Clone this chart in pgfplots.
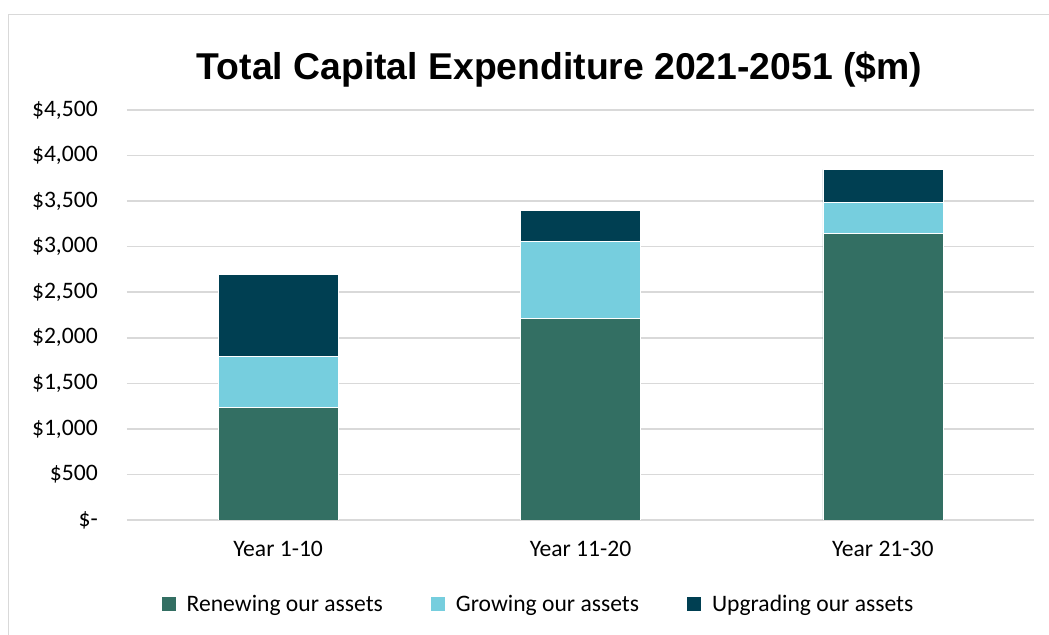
\documentclass[border=0pt]{standalone}
\usepackage{pgfplots}
\pgfplotsset{compat=1.18}
\usepackage{fontspec}
\setmainfont{Carlito}
\newfontfamily\titlefont{Liberation Sans}
\definecolor{renew}{RGB}{51,111,99}
\definecolor{grow}{RGB}{118,206,222}
\definecolor{upgr}{RGB}{0,63,82}
\definecolor{gridc}{RGB}{217,217,217}
\begin{document}
\begin{tikzpicture}
\useasboundingbox (0pt,0pt) rectangle (786.75pt,476.25pt);
\draw[gridc, line width=1.2pt] (6.375pt,0pt) -- (6.375pt,465.375pt) -- (786.75pt,465.375pt);
\node[anchor=base, inner sep=0pt, font=\titlefont\bfseries\fontsize{28pt}{32pt}\selectfont] at (419.6pt,416.25pt) {Total Capital Expenditure 2021-2051 (\$m)};
\begin{axis}[
  at={(95.25pt,86.25pt)}, anchor=south west,
  scale only axis, width=680.25pt, height=307.5pt,
  ybar stacked, bar width=90pt,
  xmin=-0.5, xmax=2.5, ymin=0, ymax=4500,
  enlargelimits=false,
  xtick={0,1,2}, xticklabels={Year 1-10,Year 11-20,Year 21-30},
  ytick={0,500,...,4500},
  yticklabels={\$-\hspace{8.25pt},\$500,{\$1,000},{\$1,500},{\$2,000},{\$2,500},{\$3,000},{\$3,500},{\$4,000},{\$4,500}},
  axis line style={draw=none},
  major tick length=0pt,
  ymajorgrids, grid style={draw=gridc, line width=1.2pt},
  tick label style={font=\fontsize{17.7pt}{20pt}\selectfont, inner sep=0pt},
  yticklabel style={anchor=east, xshift=-21.75pt},
  xticklabel style={anchor=north, yshift=-15.75pt},
  legend columns=3,
  legend style={draw=none, at={(0.4526,-0.2049)}, anchor=center,
    font=\fontsize{17.7pt}{20pt}\selectfont,
    nodes={inner sep=0pt},
    /tikz/every odd column/.append style={column sep=8.25pt},
    /tikz/every even column/.append style={column sep=36pt}},
  legend image code/.code={\fill[#1,draw=none] (0pt,-5.25pt) rectangle (10.5pt,5.25pt);},
]
\addplot[fill=renew, draw=white, line width=0.4pt] coordinates {(0,1240) (1,2210) (2,3150)};
\addplot[fill=grow, draw=white, line width=0.4pt] coordinates {(0,560) (1,850) (2,340)};
\addplot[fill=upgr, draw=white, line width=0.4pt] coordinates {(0,900) (1,340) (2,355)};
\legend{Renewing our assets,Growing our assets,Upgrading our assets}
\end{axis}
\end{tikzpicture}
\end{document}
